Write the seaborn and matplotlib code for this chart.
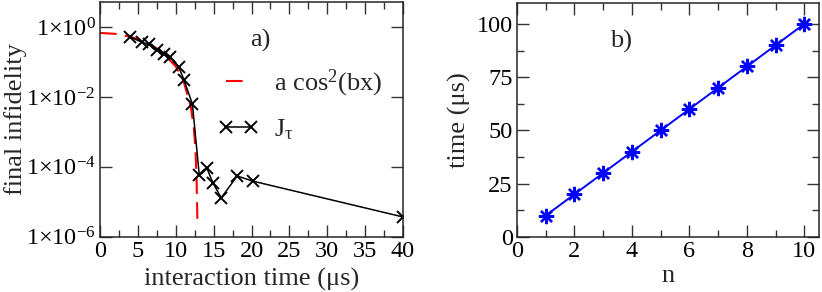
import numpy as np
import seaborn as sns
import matplotlib.pyplot as plt
from matplotlib.ticker import FixedLocator, MultipleLocator, FuncFormatter

# panel a) : final infidelity vs interaction time
t_j = [4, 5.5, 6.4, 7.5, 8.4, 9.3, 10.4, 11.1, 12.2, 13.1, 14.1, 14.9, 16.0, 18.1, 20.2, 40]
inf_j = [0.52, 0.37, 0.32, 0.22, 0.17, 0.135, 0.072, 0.030, 0.0062,
         5.8e-5, 9.3e-5, 3.5e-5, 1.3e-5, 5.5e-5, 3.9e-5, 3.7e-6]

# fitted a cos^2(bx) curve
t_fit = [0, 2, 4, 6, 8, 10, 11, 12, 12.4, 12.6, 12.75, 12.85]
inf_fit = [0.68, 0.64, 0.53, 0.38, 0.21, 0.075, 0.030, 0.0050, 1.2e-3, 3.0e-4, 4.0e-5, 3.0e-6]

# panel b) : time vs n
n_vals = [1, 2, 3, 4, 5, 6, 7, 8, 9, 10]
time_vals = [10, 20, 30, 40, 50, 60, 70, 80, 90, 100]

sns.set_style('ticks')
plt.rcParams['font.family'] = ['Liberation Serif', 'DejaVu Serif']
plt.rcParams['mathtext.fontset'] = 'custom'
plt.rcParams['mathtext.rm'] = 'Liberation Serif'
plt.rcParams['mathtext.it'] = 'Liberation Serif:italic'
plt.rcParams['font.size'] = 19

fig = plt.figure(figsize=(8.22, 2.92), dpi=100)
ax1 = fig.add_axes([0.1217, 0.189, 0.3686, 0.804])
ax2 = fig.add_axes([0.629, 0.189, 0.367, 0.802])

sns.lineplot(x=t_fit, y=inf_fit, ax=ax1, color='#ff0000', lw=1.5,
             linestyle=(0, (8, 4)), label=r'a cos$^{\mathregular{2}}$(bx)', sort=False)
sns.lineplot(x=t_j, y=inf_j, ax=ax1, color='black', lw=1.1, marker='x',
             markersize=8, markeredgewidth=1.4, markeredgecolor='black',
             label=r'J$_{\mathregular{τ}}$', sort=False)
ax1.set_yscale('log')
ax1.set_xlim(0, 40)
ax1.set_ylim(1e-6, 5.2)
ax1.xaxis.set_major_locator(MultipleLocator(5))
ax1.xaxis.set_minor_locator(MultipleLocator(2.5))
ax1.yaxis.set_major_locator(FixedLocator([1e-6, 1e-4, 1e-2, 1e0]))
ax1.yaxis.set_minor_locator(FixedLocator([]))
ax1.yaxis.set_major_formatter(FuncFormatter(
    lambda v, p: r'1$\times$10$^{\mathregular{%d}}$' % int(round(np.log10(v)))))
ax1.set_xlabel('interaction time (μs)', labelpad=4.5)
ax1.set_ylabel('final infidelity', labelpad=-1)
ax1.text(0.495, 0.81, 'a)', transform=ax1.transAxes, fontsize=19)
ax1.legend(loc='upper left', bbox_to_anchor=(0.355, 0.765), frameon=False,
           handlelength=1.55, handletextpad=0.55, labelspacing=0.7,
           numpoints=2, borderaxespad=0, fontsize=19)

sns.lineplot(x=n_vals, y=time_vals, ax=ax2, color='#0000ff', lw=1.4,
             marker=(8, 2, 0), markersize=11, markeredgewidth=1.7,
             markeredgecolor='#0000ff')
ax2.set_xlim(0, 10.5)
ax2.set_ylim(0, 110)
ax2.xaxis.set_major_locator(MultipleLocator(2))
ax2.xaxis.set_minor_locator(MultipleLocator(1))
ax2.yaxis.set_major_locator(MultipleLocator(25))
ax2.yaxis.set_minor_locator(MultipleLocator(12.5))
ax2.set_xlabel('n', labelpad=2.5)
ax2.set_ylabel('time (μs)', labelpad=4)
ax2.text(0.308, 0.81, 'b)', transform=ax2.transAxes, fontsize=19)

for ax in (ax1, ax2):
    for s in ax.spines.values():
        s.set_visible(True)
        s.set_linewidth(1.1)
    ax.tick_params(which='both', direction='in', top=True, right=True,
                   width=1.0, colors='#333333', labelcolor='black', labelsize=17.5, pad=3)
    ax.tick_params(which='major', length=8.5)
    ax.tick_params(which='minor', length=5)

fig.savefig('out.png', dpi=100)
